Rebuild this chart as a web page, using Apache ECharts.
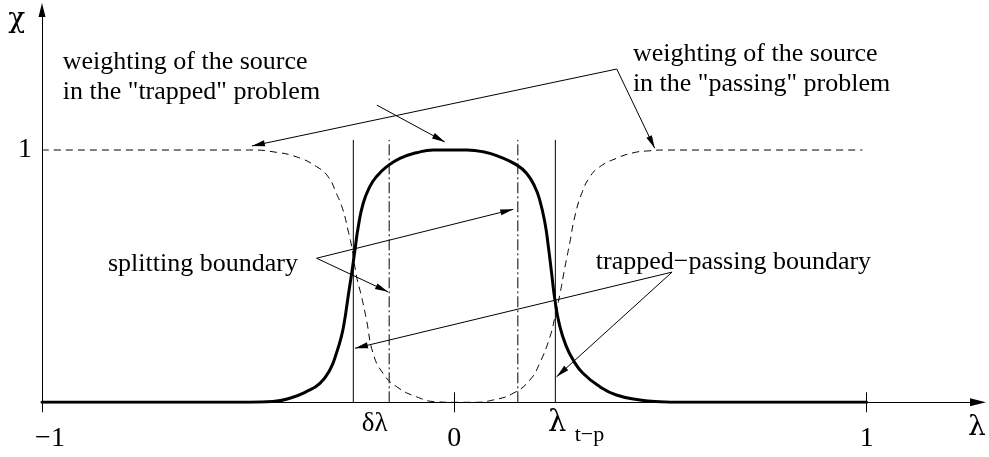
<!DOCTYPE html>
<html>
<head>
<meta charset="utf-8">
<script src="https://cdn.jsdelivr.net/npm/echarts@6/dist/echarts.min.js"></script>
<style>
  html, body { margin: 0; padding: 0; background: #fff; }
  #chart { width: 989px; height: 457px; }
</style>
</head>
<body>
<div id="chart"></div>
<script>
// Weighting of the source in the "trapped" problem (thick curve), sampled in λ
const trappedLambda = [-1, -0.55, -0.496, -0.44, -0.399, -0.359, -0.326, -0.302, -0.286, -0.274, -0.266, -0.26, -0.254, -0.249, -0.241, -0.233, -0.221, -0.205, -0.189, -0.164, -0.132, -0.092, -0.051, 0, 0.03, 0.07, 0.11, 0.151, 0.175, 0.195, 0.207, 0.22, 0.228, 0.236, 0.244, 0.256, 0.272, 0.288, 0.312, 0.353, 0.393, 0.45, 0.498, 0.55, 1];
const trappedChi    = [0, 0, 0, 0.003, 0.016, 0.042, 0.075, 0.128, 0.194, 0.26, 0.326, 0.392, 0.458, 0.511, 0.604, 0.696, 0.789, 0.855, 0.894, 0.934, 0.967, 0.989, 1, 1, 1, 0.993, 0.973, 0.941, 0.908, 0.855, 0.802, 0.709, 0.617, 0.511, 0.405, 0.3, 0.22, 0.168, 0.115, 0.062, 0.029, 0.009, 0.002, 0, 0];

// Weighting of the source in the "passing" problem (dashed curve)
const passingLambda = [-1, -0.52, -0.491, -0.44, -0.383, -0.334, -0.306, -0.286, -0.27, -0.258, -0.249, -0.237, -0.225, -0.213, -0.197, -0.173, -0.14, -0.092, -0.043, 0, 0.046, 0.094, 0.143, 0.183, 0.207, 0.232, 0.244, 0.256, 0.268, 0.28, 0.292, 0.309, 0.329, 0.353, 0.393, 0.434, 0.474, 0.515, 0.99];
const passingChi    = [1, 1, 1, 0.993, 0.973, 0.934, 0.894, 0.828, 0.762, 0.683, 0.617, 0.498, 0.419, 0.326, 0.194, 0.115, 0.062, 0.022, 0.002, 0, 0, 0.009, 0.036, 0.088, 0.155, 0.26, 0.339, 0.428, 0.534, 0.632, 0.735, 0.828, 0.894, 0.934, 0.967, 0.989, 0.997, 1, 1];

// Vertical markers: trapped–passing boundary ±λt−p and splitting boundary
const boundaryLambda  = [-0.245, 0.245];
const splittingLambda = [-0.158, 0.154];
const markerTop = 1.04;

// Axis ticks
const tickValues = [-1, 0, 1];
const tickLabels = ['−1', '0', '1'];
const chiTickValues = [1];

const FONT = '"Liberation Serif", "Times New Roman", serif';
const GREEK = '"DejaVu Serif", "Liberation Serif", serif';
const BLACK = '#000';

const chart = echarts.init(document.getElementById('chart'));

const pairs = (xs, ys) => xs.map((x, i) => [x, ys[i]]);

// Narrow filled arrowhead, tip pointing along the line
const ARROW = 'path://M0,0L3,13L-3,13Z';
const arrowEnd = (from, to) => [
  { coord: from, symbol: 'none' },
  { coord: to, symbol: ARROW, symbolSize: [6, 13], symbolOffset: [0, 6.5] }
];

// Annotation arrows, in (λ, χ)
const arrows = [
  arrowEnd([-0.188, 1.178], [-0.023, 1.032]),
  arrowEnd([0.394, 1.321], [-0.491, 1.016]),
  arrowEnd([0.394, 1.321], [0.486, 1.007]),
  arrowEnd([-0.334, 0.571], [0.143, 0.765]),
  arrowEnd([-0.334, 0.571], [-0.161, 0.438]),
  arrowEnd([0.528, 0.516], [-0.241, 0.214]),
  arrowEnd([0.528, 0.516], [0.248, 0.101])
];

const gridTop = 10, gridBottom = 54.7;
const gridHeight = 457 - gridTop - gridBottom;

const series = [];
boundaryLambda.forEach(l => series.push({
  type: 'line', data: [[l, 0], [l, markerTop]], showSymbol: false, silent: true,
  lineStyle: { color: BLACK, width: 1 }, z: 2
}));
splittingLambda.forEach(l => series.push({
  type: 'line', data: [[l, 0], [l, markerTop]], showSymbol: false, silent: true,
  lineStyle: { color: BLACK, width: 1, type: [11, 3, 2, 3] }, z: 2
}));
series.push({
  type: 'line', data: pairs(passingLambda, passingChi), showSymbol: false, silent: true,
  smooth: 0.5,
  lineStyle: { color: BLACK, width: 1, type: [7, 5] }, z: 3
});
series.push({
  type: 'line', data: pairs(trappedLambda, trappedChi), showSymbol: false, silent: true,
  smooth: 0.5,
  lineStyle: { color: BLACK, width: 3, join: 'round', cap: 'round' }, z: 4
});
series.push({
  type: 'line', data: [], silent: true,
  markLine: {
    silent: true, animation: false,
    lineStyle: { color: BLACK, width: 1, type: 'solid' },
    itemStyle: { color: BLACK },
    label: { show: false },
    emphasis: { disabled: true },
    data: arrows
  },
  z: 5
});

const axisArrow = 'path://M0,0L4,16L-4,16Z';

chart.setOption({
  animation: false,
  backgroundColor: '#fff',
  grid: { left: 42, right: 11, top: gridTop, bottom: gridBottom },
  xAxis: [{
    type: 'value', min: -1, max: 1.27, position: 'bottom',
    axisLine: { show: true, onZero: false, symbol: ['none', axisArrow], symbolSize: [8, 16],
      lineStyle: { color: BLACK, width: 1 } },
    axisTick: { show: true, customValues: tickValues, length: 10, lineStyle: { color: BLACK, width: 1 } },
    axisLabel: {
      show: true, customValues: tickValues, margin: 22, color: BLACK,
      fontFamily: FONT, fontSize: 28,
      formatter: v => {
        const i = tickValues.indexOf(v);
        const t = i >= 0 ? tickLabels[i] : '';
        return v < 0 ? '{n|' + t + '}' : '{d|' + t + '}';
      },
      rich: {
        n: { fontFamily: FONT, fontSize: 28, color: BLACK, padding: [0, 0, 0, 16] },
        d: { fontFamily: FONT, fontSize: 28, color: BLACK }
      }
    },
    splitLine: { show: false }
  }, {
    type: 'value', min: -1, max: 1.27, position: 'top', offset: -gridHeight,
    axisLine: { show: false },
    axisTick: { show: true, customValues: tickValues, length: 10, lineStyle: { color: BLACK, width: 1 } },
    axisLabel: { show: false },
    splitLine: { show: false }
  }],
  yAxis: {
    type: 'value', min: 0, max: 1.555,
    axisLine: { show: true, onZero: false, symbol: ['none', axisArrow], symbolSize: [9, 14],
      lineStyle: { color: BLACK, width: 1 } },
    axisTick: { show: false },
    axisLabel: { show: true, customValues: chiTickValues, margin: 10, color: BLACK, fontFamily: FONT, fontSize: 28 },
    splitLine: { show: false }
  },
  series
});

// Text annotations anchored in (λ, χ)
const toPx = p => chart.convertToPixel({ seriesIndex: 0 }, p);
const text = (p, str, opts) => {
  const xy = toPx(p);
  return {
    type: 'text', x: xy[0], y: xy[1], silent: true, z: 10,
    style: Object.assign({
      text: str, fill: BLACK, fontFamily: FONT, fontSize: 26,
      align: 'left', verticalAlign: 'middle', lineHeight: 30
    }, opts || {})
  };
};

chart.setOption({
  graphic: [
    text([-0.9496, 1.289], 'weighting of the source\nin the "trapped" problem'),
    text([0.433, 1.319], 'weighting of the source\nin the "passing" problem'),
    text([-0.840, 0.547], 'splitting boundary'),
    text([0.343, 0.555], 'trapped−passing boundary'),
    text([-0.193, -0.084], 'δλ', { align: 'center', fontSize: 27 }),
    text([0.227, -0.082], 'λ', { fontFamily: GREEK, fontSize: 29 }),
    text([0.292, -0.13], 't−p', { fontSize: 22 }),
    text([-1.061, 1.515], 'χ', { align: 'center', fontFamily: GREEK, fontSize: 28 }),
    text([1.267, -0.1], 'λ', { align: 'center', fontFamily: GREEK, fontSize: 28 })
  ]
});
</script>
</body>
</html>
